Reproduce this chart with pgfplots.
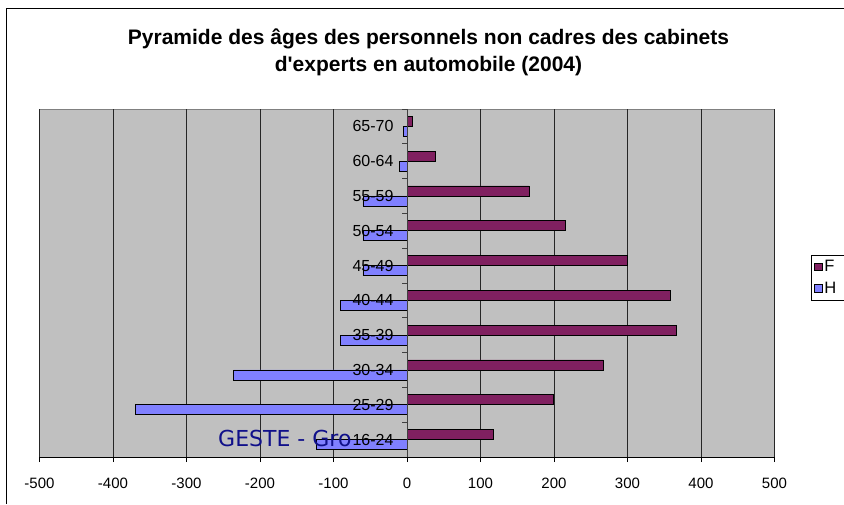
\documentclass[border=0pt]{standalone}
\usepackage{pgfplots}
\pgfplotsset{compat=1.18}
\usepackage{fontspec}
\setmainfont{Liberation Sans}
\newfontfamily\wmfont{DejaVu Sans}
\definecolor{plotgray}{HTML}{C0C0C0}
\definecolor{fcol}{HTML}{802060}
\definecolor{hcol}{HTML}{8080FF}
\definecolor{wm}{HTML}{10108A}
\pgfplotsset{
  layers/mylayers/.define layer set={
    axis background,axis grid,main,axis ticks,axis lines,axis tick labels,axis descriptions,axis foreground
  }{
    grid style={/pgfplots/on layer=axis grid},
    tick style={/pgfplots/on layer=axis ticks},
    axis line style={/pgfplots/on layer=axis lines},
    label style={/pgfplots/on layer=axis descriptions},
    legend style={/pgfplots/on layer=axis descriptions},
    title style={/pgfplots/on layer=axis descriptions},
    ticklabel style={/pgfplots/on layer=axis tick labels},
    axis background@ style={/pgfplots/on layer=axis background},
  },
}
\begin{document}
\begin{tikzpicture}
\begin{axis}[
  set layers=mylayers,
  at={(0pt,0pt)}, anchor=south west,
  scale only axis, width=735pt, height=348pt,
  xbar, bar width=10pt,
  xmin=-500, xmax=500, ymin=-0.5, ymax=9.5,
  axis x line=bottom, axis y line=center,
  axis line style={-},
  x axis line style={black, line width=1pt},
  y axis line style={black!75, line width=0.8pt},
  axis background/.style={fill=plotgray, draw=gray, line width=0.8pt},
  xtick={-500,-400,...,500},
  xticklabels={-500,-400,-300,-200,-100,0,100,200,300,400,500},
  xmajorgrids, grid style={black!85, line width=0.7pt},
  tick align=outside,
  major tick length=5pt, minor tick length=5pt,
  ytick={0,...,9},
  yticklabels={16-24,25-29,30-34,35-39,40-44,45-49,50-54,55-59,60-64,65-70},
  major y tick style={draw=none},
  minor ytick={-0.5,0.5,...,9.5},
  minor y tick style={black!75, line width=0.8pt},
  x tick style={black, line width=0.8pt},
  xticklabel style={font=\fontsize{15}{18}\selectfont, yshift=-12pt},
  yticklabel style={font=\fontsize{16}{19}\selectfont, xshift=-5pt},
  legend style={at={(1.0497,0.5805)}, anchor=north west, draw=black, fill=white,
    font=\fontsize{16.5}{19}\selectfont, row sep=5pt, inner xsep=3pt, inner ysep=3pt,
    nodes={text width=24pt, align=left}},
  legend image code/.code={\draw[#1, draw=black, line width=0.6pt] (0pt,-3.75pt) rectangle (7.5pt,3.75pt);},
]
\addplot[fill=fcol, draw=black, line width=0.8pt, bar shift=5pt] coordinates {
  (118,0) (199,1) (267,2) (367,3) (359,4) (300,5) (215,6) (166,7) (38,8) (8,9)};
\addlegendentry{F}
\addplot[fill=hcol, draw=black, line width=0.8pt, bar shift=-5pt] coordinates {
  (-123,0) (-369,1) (-236,2) (-90,3) (-91,4) (-60,5) (-60,6) (-60,7) (-10,8) (-5,9)};
\addlegendentry{H}
\end{axis}
\node[font=\wmfont\fontsize{22}{25}\selectfont, text=wm, anchor=base west, inner sep=0pt] at (178.5pt,11pt) {GESTE - Gro};
\node[font=\bfseries\fontsize{21}{24}\selectfont, anchor=base, inner sep=0pt] at (389pt,412pt) {Pyramide des âges des personnels non cadres des cabinets};
\node[font=\bfseries\fontsize{21}{24}\selectfont, anchor=base, inner sep=0pt] at (389pt,385pt) {d\textquotesingle experts en automobile (2004)};
\fill[black] (-33.6pt,-47pt) rectangle (-32pt,449pt);
\fill[black] (-33.6pt,447.5pt) rectangle (804.5pt,449pt);
\pgfresetboundingbox
\useasboundingbox (-39.5pt,-47pt) rectangle (804.5pt,457pt);
\end{tikzpicture}
\end{document}
